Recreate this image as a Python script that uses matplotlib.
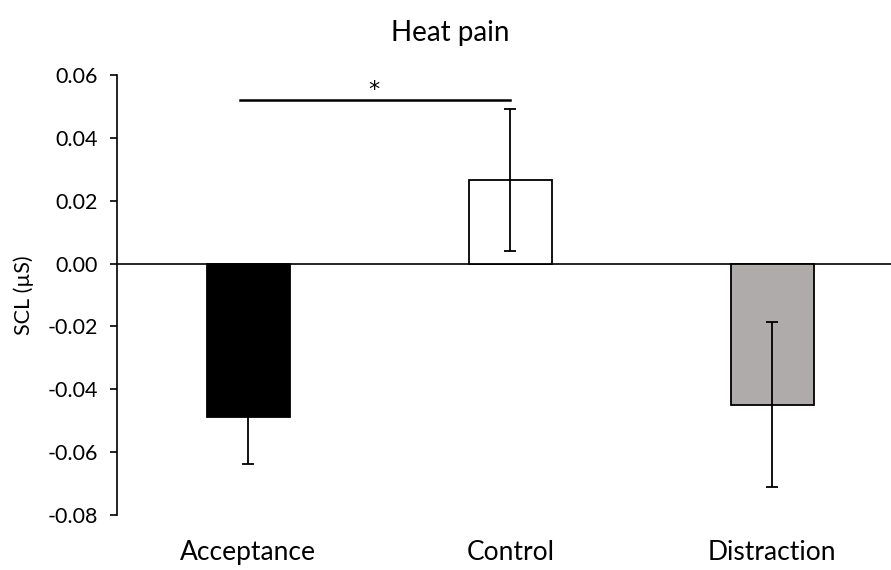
import numpy as np
import matplotlib.pyplot as plt

plt.rcParams['font.family'] = ['Lato', 'DejaVu Sans']

conditions = ['Acceptance', 'Control', 'Distraction']
means = [-0.0489, 0.0266, -0.0449]
errors = [0.0148, 0.0226, 0.0262]
colors = ['black', 'white', '#afabab']
yticks = [0.06, 0.04, 0.02, 0.00, -0.02, -0.04, -0.06, -0.08]

fig = plt.figure(figsize=(8.91, 5.70), dpi=100)
ax = fig.add_axes([0.1317, 0.0965, 0.8683, 0.7719])

x = np.arange(len(conditions))
ax.bar(x, means, width=0.317, color=colors, edgecolor='black', linewidth=1.3, zorder=2)
ax.errorbar(x, means, yerr=errors, fmt='none', ecolor='black', elinewidth=1.3,
            capsize=4.5, capthick=1.3, zorder=3)
ax.axhline(0, color='black', linewidth=1.2, zorder=1)

# significance bar between Acceptance and Control
ax.plot([-0.033, 1.0], [0.052, 0.052], color='black', linewidth=1.8)
ax.text(0.48, 0.0522, '*', ha='center', va='bottom', fontsize=16, family='DejaVu Sans')

ax.set_xlim(-0.5, 2.453)
ax.set_ylim(-0.08, 0.06)
ax.set_yticks(yticks)
ax.set_yticklabels([f'{v:.2f}' for v in yticks], fontsize=15.5)
ax.set_xticks(x)
ax.set_xticklabels(conditions, fontsize=19)
ax.tick_params(axis='x', length=0, pad=18)
ax.tick_params(axis='y', length=5, width=1.2, pad=9)

for side in ['top', 'right', 'bottom']:
    ax.spines[side].set_visible(False)
ax.spines['left'].set_linewidth(1.2)

ax.set_ylabel('SCL (µS)', fontsize=15.5, labelpad=10)
fig.text(0.505, 0.942, 'Heat pain', ha='center', va='center', fontsize=20)

fig.savefig('out.png', dpi=100)
